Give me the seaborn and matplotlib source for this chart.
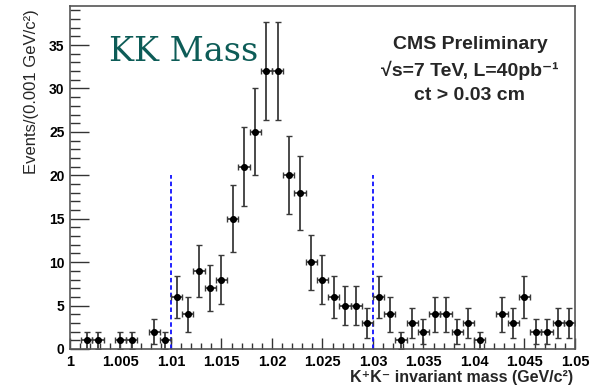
import numpy as np
import pandas as pd
import matplotlib
matplotlib.use("Agg")
import matplotlib.pyplot as plt
import seaborn as sns

# ---- data ----
mass = [1.000556, 1.001667, 1.002778, 1.003889, 1.005000, 1.006111, 1.007222, 1.008333,
        1.009444, 1.010556, 1.011667, 1.012778, 1.013889, 1.015000, 1.016111, 1.017222,
        1.018333, 1.019444, 1.020556, 1.021667, 1.022778, 1.023889, 1.025000, 1.026111,
        1.027222, 1.028333, 1.029444, 1.030556, 1.031667, 1.032778, 1.033889, 1.035000,
        1.036111, 1.037222, 1.038333, 1.039444, 1.040556, 1.041667, 1.042778, 1.043889,
        1.045000, 1.046111, 1.047222, 1.048333, 1.049444]
events = [0, 1, 1, 0, 1, 1, 0, 2, 1, 6, 4, 9, 7, 8, 15, 21, 25, 32, 32, 20, 18, 10, 8, 6,
          5, 5, 3, 6, 4, 1, 3, 2, 4, 4, 2, 3, 1, 0, 4, 3, 6, 2, 2, 3, 3]
bin_half_width = 0.000556
window = [1.01, 1.03]
window_height = 20
x_ticks = [1.0, 1.005, 1.01, 1.015, 1.02, 1.025, 1.03, 1.035, 1.04, 1.045, 1.05]
x_tick_labels = ["1", "1.005", "1.01", "1.015", "1.02", "1.025", "1.03", "1.035", "1.04", "1.045", "1.05"]
y_ticks = [0, 5, 10, 15, 20, 25, 30, 35]
y_tick_labels = ["0", "5", "10", "15", "20", "25", "30", "35"]

df = pd.DataFrame({"mass": mass, "events": events})
df = df[df["events"] > 0].copy()
df["err"] = np.sqrt(df["events"])

sns.set_style("white")
plt.rcParams["font.family"] = ["Liberation Sans", "DejaVu Sans"]

fig = plt.figure(figsize=(5.93, 3.88), dpi=100)
ax = fig.add_axes([70/593, 39/388, 505/593, 343/388])

ax.errorbar(df["mass"], df["events"], yerr=df["err"], xerr=bin_half_width,
            fmt="none", ecolor="#3a3a3a", elinewidth=1.3, capsize=2, capthick=1.0, zorder=2)
sns.scatterplot(data=df, x="mass", y="events", ax=ax, color="black", s=26, marker="o",
                edgecolor="black", linewidth=0, zorder=3, legend=False)

ax.vlines(window, 0, window_height, colors="#1010ff", linestyles=(0, (2.5, 1.6)),
          linewidth=1.3, zorder=1)

ax.set_xlim(1.0, 1.05)
ax.set_ylim(0, 39.5)
ax.set_xticks(x_ticks)
ax.set_xticklabels(x_tick_labels, fontsize=10.5, fontweight="bold")
ax.set_yticks(y_ticks)
ax.set_yticklabels(y_tick_labels, fontsize=10, fontweight="bold")
ax.set_xticks(np.arange(1.0, 1.0505, 0.001), minor=True)
ax.set_yticks(np.arange(0, 39.5, 1), minor=True)
ax.tick_params(axis="both", which="both", direction="in", top=False, right=False,
               bottom=True, left=True, colors="#333333", labelcolor="black")
ax.tick_params(axis="x", which="major", length=8, width=1, pad=4)
ax.tick_params(axis="x", which="minor", length=4, width=1)
ax.tick_params(axis="y", which="major", length=14, width=1, pad=4)
ax.tick_params(axis="y", which="minor", length=7, width=1)
for s in ax.spines.values():
    s.set_color("#555555")
    s.set_linewidth(1.2)

ax.set_xlabel("K\u207aK\u207b invariant mass (GeV/c\u00b2)", fontsize=11.5, fontweight="bold")
ax.xaxis.set_label_coords(0.997, -0.06)
ax.xaxis.label.set_horizontalalignment("right")
ax.set_ylabel("Events/(0.001 GeV/c\u00b2)", fontsize=12)
ax.yaxis.set_label_coords(-0.062, 0.99)
ax.yaxis.label.set_horizontalalignment("right")

ax.text(0.078, 0.867, "KK Mass", transform=ax.transAxes, fontsize=24,
        family="DejaVu Serif", color="#0d5c57", va="center", ha="left")

ax.text(0.792, 0.888, "CMS Preliminary", transform=ax.transAxes, fontsize=14,
        fontweight="bold", ha="center", va="center")
ax.text(0.792, 0.811, "\u221as=7 TeV, L=40pb\u207b\u00b9", transform=ax.transAxes,
        fontsize=14, fontweight="bold", ha="center", va="center")
ax.text(0.792, 0.738, "ct > 0.03 cm", transform=ax.transAxes, fontsize=14,
        fontweight="bold", ha="center", va="center")

fig.savefig("out.png", dpi=100)
